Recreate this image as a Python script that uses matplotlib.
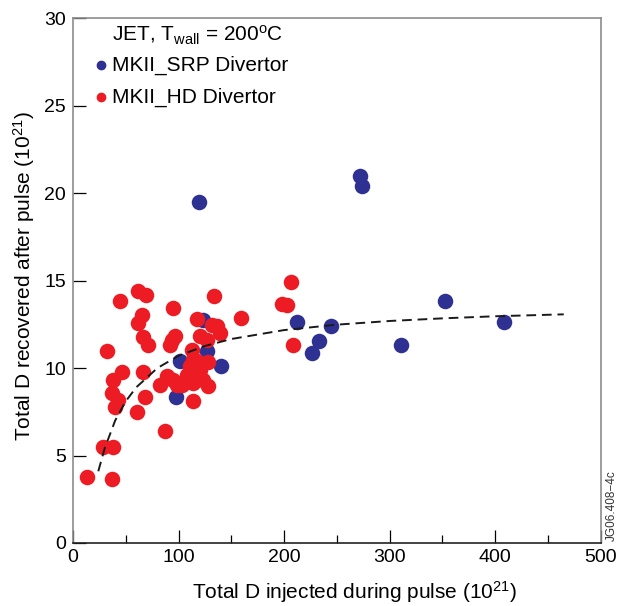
import matplotlib
matplotlib.use("Agg")
import matplotlib.pyplot as plt
from matplotlib.ticker import MultipleLocator

plt.rcParams["font.family"] = ["Liberation Sans", "DejaVu Sans"]
plt.rcParams["mathtext.fontset"] = "custom"
plt.rcParams["mathtext.rm"] = "Liberation Sans"
plt.rcParams["mathtext.it"] = "Liberation Sans"

# ---- data ----
srp_x = [97.6, 101.4, 119.4, 123.5, 126.7, 140, 212, 226.6, 233.5, 244.5,
         272, 273.6, 310.5, 352.6, 408.8]
srp_y = [8.35, 10.38, 19.5, 12.76, 10.95, 10.13, 12.65, 10.88, 11.52, 12.38,
         21.0, 20.4, 11.3, 13.85, 12.61]

hd_x = [13.6, 36.7, 28.8, 38.3, 87.2, 60.4, 68.2, 39.8, 43, 36.7,
        38.2, 46.1, 31.9, 66.7, 82.5, 95, 113.4, 128.3, 44.5, 61.9,
        69.2, 65.1, 61.9, 66, 71.4, 94.5, 93.5, 96.7, 91.9, 133.4,
        159, 117.2, 120.4, 131.5, 139.5, 136.2, 126.7, 112.5, 114, 128.3,
        110.9, 117.2, 117.2, 107.8, 123.5, 98.3, 88.8, 103, 114, 120.4,
        206.6, 197.8, 203.1, 208.8]
hd_y = [3.8, 3.65, 5.48, 5.48, 6.41, 7.46, 8.37, 7.8, 8.19, 8.6,
        9.33, 9.8, 10.95, 9.8, 9.04, 9.33, 8.13, 8.95, 13.81, 14.38,
        14.2, 13.05, 12.57, 11.77, 11.33, 13.43, 11.62, 11.85, 11.33, 14.14,
        12.86, 12.78, 11.81, 12.48, 12.02, 12.38, 11.62, 11.05, 10.47, 10.32,
        10.09, 10.38, 9.52, 9.62, 9.33, 9.04, 9.52, 9.04, 9.14, 9.9,
        14.9, 13.68, 13.62, 11.33]

# dashed trend curve
fit_x = [24, 30, 40, 50, 60, 80, 100, 125, 150, 200, 250, 300, 350, 400, 465]
fit_y = [4.1, 5.4, 7.0, 8.1, 8.9, 10.0, 10.7, 11.26, 11.66, 12.17, 12.48,
         12.69, 12.84, 12.96, 13.07]

BLUE = "#2e3192"
RED = "#ed1c24"
GRAY = "#8c8c8c"

fig = plt.figure(figsize=(6.29, 6.06), dpi=100)
ax = fig.add_axes([0.116, 0.104, 0.839, 0.866])

ax.scatter(srp_x, srp_y, s=125, color=BLUE, linewidths=0, zorder=3)
ax.scatter(hd_x, hd_y, s=125, color=RED, linewidths=0, zorder=4)
ax.plot(fit_x, fit_y, color="#1a1a1a", linestyle=(0, (5, 3)), linewidth=1.4, zorder=5)

ax.set_xlim(0, 500)
ax.set_ylim(0, 30)
ax.xaxis.set_major_locator(MultipleLocator(100))
ax.xaxis.set_minor_locator(MultipleLocator(50))
ax.yaxis.set_major_locator(MultipleLocator(5))

ax.tick_params(which="both", direction="in", color="black", width=0.9,
               labelsize=14, top=False, right=False)
ax.tick_params(which="major", length=9.5)
ax.tick_params(which="minor", length=6)
ax.tick_params(axis="y", pad=5)
ax.tick_params(axis="x", pad=4)

for side in ["left", "top", "right"]:
    ax.spines[side].set_color(GRAY)
    ax.spines[side].set_linewidth(1.2)
ax.spines["bottom"].set_color("#222222")
ax.spines["bottom"].set_linewidth(1.2)

ax.set_xlabel("Total D injected during pulse (10$^{21}$)", fontsize=15)
ax.set_ylabel("Total D recovered after pulse (10$^{21}$)", fontsize=15)
ax.xaxis.set_label_coords(0.534, -0.068)
ax.yaxis.set_label_coords(-0.068, 0.508)

# legend drawn as text
ax.text(0.074, 0.967, "JET, T$_{\\rm wall}$ = 200$^{\\rm o}$C", transform=ax.transAxes,
        fontsize=15, va="center", ha="left")
ax.plot([0.053], [0.910], "o", color=BLUE, markersize=6, transform=ax.transAxes, clip_on=False)
ax.text(0.074, 0.910, "MKII_SRP Divertor", transform=ax.transAxes,
        fontsize=15, va="center", ha="left")
ax.plot([0.053], [0.849], "o", color=RED, markersize=6, transform=ax.transAxes, clip_on=False)
ax.text(0.074, 0.849, "MKII_HD Divertor", transform=ax.transAxes,
        fontsize=15, va="center", ha="left")

fig.text(0.973, 0.166, "JG06.408\u22124c", rotation=90, fontsize=8.5,
         ha="center", va="center", color="#333333")

fig.savefig("out.png", dpi=100)
